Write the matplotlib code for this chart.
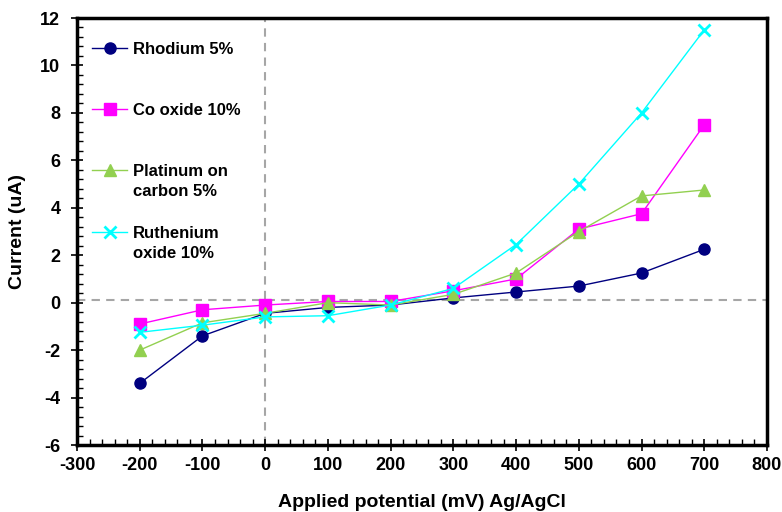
import matplotlib.pyplot as plt
from matplotlib.ticker import MultipleLocator

plt.rcParams['font.family'] = ['Liberation Sans', 'DejaVu Sans']
plt.rcParams['font.weight'] = 'bold'
plt.rcParams['axes.unicode_minus'] = False

# potential (mV) vs current (uA)
potential = [-200, -100, 0, 100, 200, 300, 400, 500, 600, 700]
rhodium = [-3.4, -1.4, -0.45, -0.2, -0.1, 0.2, 0.45, 0.7, 1.25, 2.25]
co_oxide = [-0.9, -0.3, -0.1, 0.05, 0.05, 0.5, 1.0, 3.1, 3.75, 7.5]
platinum = [-2.0, -0.85, -0.45, 0.0, -0.1, 0.35, 1.25, 3.0, 4.5, 4.75]
ruthenium = [-1.25, -0.95, -0.6, -0.55, -0.1, 0.6, 2.45, 5.0, 8.0, 11.5]

# legend: first line next to the marker, second line underneath
labels = ['Rhodium 5%', 'Co oxide 10%', 'Platinum on', 'Ruthenium']
second_lines = ['', '', 'carbon 5%', 'oxide 10%']

fig = plt.figure(figsize=(7.82, 5.12), dpi=100)
ax = fig.add_axes([77/782, 1 - 445/512, 690/782, 427/512])

ax.axhline(0.1, color='#a6a6a6', ls='--', lw=1.5, dashes=(4, 3), zorder=1)
ax.axvline(0, color='#a6a6a6', ls='--', lw=1.5, dashes=(4, 3), zorder=1)

ax.plot(potential, rhodium, color='#000080', lw=1, marker='o', ms=8,
        label=labels[0])
ax.plot(potential, co_oxide, color='#ff00ff', lw=1, marker='s', ms=8,
        label=labels[1])
ax.plot(potential, platinum, color='#92d050', lw=1, marker='^', ms=9,
        label=labels[2])
ax.plot(potential, ruthenium, color='#00ffff', lw=1, marker='x', ms=8, mew=2,
        label=labels[3])

ax.set_xlim(-300, 800)
ax.set_ylim(-6, 12)
ax.xaxis.set_major_locator(MultipleLocator(100))
ax.xaxis.set_minor_locator(MultipleLocator(20))
ax.yaxis.set_major_locator(MultipleLocator(2))
ax.yaxis.set_minor_locator(MultipleLocator(0.4))
ax.tick_params(which='major', direction='inout', length=8, width=1.2,
               labelsize=13, pad=5)
ax.tick_params(axis='y', which='major', pad=8)
ax.tick_params(which='minor', direction='in', length=4, width=1)
for s in ax.spines.values():
    s.set_linewidth(2.5)

ax.set_xlabel('Applied potential (mV) Ag/AgCl', fontsize=14, fontweight='bold',
              labelpad=14)
ax.set_ylabel('Current (uA)', fontsize=14, fontweight='bold', labelpad=10)

leg = ax.legend(loc='upper left', bbox_to_anchor=(0.0, 0.98), frameon=False,
                fontsize=12, labelspacing=2.78, handlelength=2.1,
                handletextpad=0.35)

fig.canvas.draw()
inv = fig.transFigure.inverted()
for t, extra in zip(leg.get_texts(), second_lines):
    if not extra:
        continue
    bb = t.get_window_extent()
    x0, y0 = inv.transform((bb.x0, bb.y0 - 20))
    fig.text(x0, y0, extra, fontsize=12, fontweight='bold', va='bottom')

fig.savefig('out.png', dpi=100)
